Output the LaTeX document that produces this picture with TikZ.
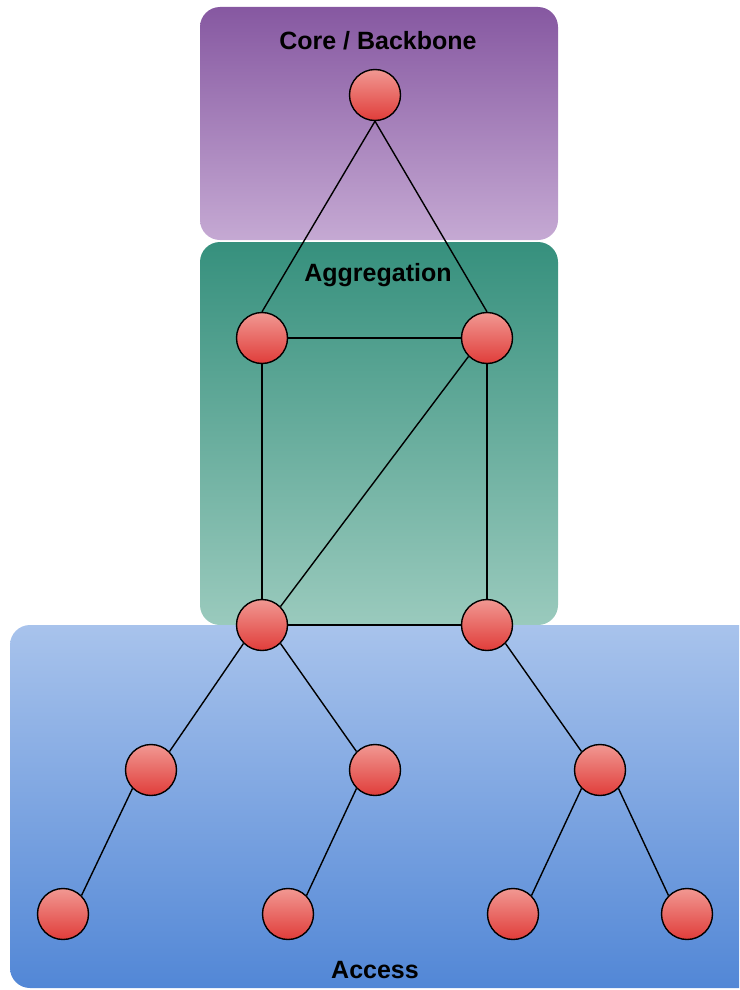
\documentclass[tikz,border=0pt]{standalone}
\usepackage{fontspec}
\setmainfont{Liberation Sans}
\definecolor{coreTop}{HTML}{8658A1}
\definecolor{coreBot}{HTML}{C5A9D3}
\definecolor{aggTop}{HTML}{36907D}
\definecolor{aggBot}{HTML}{9ACABD}
\definecolor{accTop}{HTML}{A8C3EC}
\definecolor{accBot}{HTML}{5287D6}
\definecolor{nodeTop}{HTML}{F19892}
\definecolor{nodeBot}{HTML}{E03D3A}
\begin{document}
\begin{tikzpicture}[x=1pt,y=-1pt,
  layer/.style={rounded corners=20pt},
  dev/.style={circle,minimum size=51pt,inner sep=0pt,draw=black,line width=1.4pt,top color=nodeTop,bottom color=nodeBot},
  link/.style={draw=black,line width=1.4pt},
  lbl/.style={font=\bfseries\fontsize{25}{29}\selectfont,text=black,inner sep=0pt}]
\useasboundingbox (0,0) rectangle (739,990);
\begin{scope}
\clip (0,0) rectangle (739,990);
\shade[layer,top color=coreTop,bottom color=coreBot] (200,7) rectangle (558,240);
\shade[layer,top color=aggTop,bottom color=aggBot] (200,242) rectangle (558,625);
\shade[layer,top color=accTop,bottom color=accBot] (10,625) rectangle (780,988);
\end{scope}
\node[lbl] (tcore) at (378,41) {Core / Backbone};
\node[lbl] (tagg) at (378,275) {Aggregation};
\node[lbl] (tacc) at (375,970) {Access};
\node[dev] (c) at (375,95) {};
\node[dev] (a1) at (262,338) {};
\node[dev] (a2) at (487,338) {};
\node[dev] (a3) at (262,625) {};
\node[dev] (a4) at (487,625) {};
\node[dev] (m1) at (151,770) {};
\node[dev] (m2) at (375,770) {};
\node[dev] (m3) at (600,770) {};
\node[dev] (l1) at (63,914) {};
\node[dev] (l2) at (288,914) {};
\node[dev] (l3) at (513,914) {};
\node[dev] (l4) at (687,914) {};
\draw[link] (c.south) -- (a1.north);
\draw[link] (c.south) -- (a2.north);
\draw[link] (a1.east) -- (a2.west);
\draw[link] (a1.south) -- (a3.north);
\draw[link] (a2.south) -- (a4.north);
\draw[link] (a2.225) -- (a3.45);
\draw[link] (a3.east) -- (a4.west);
\draw[link] (a3.225) -- (m1.45);
\draw[link] (a3.315) -- (m2.135);
\draw[link] (a4.315) -- (m3.135);
\draw[link] (m1.225) -- (l1.45);
\draw[link] (m2.225) -- (l2.45);
\draw[link] (m3.225) -- (l3.45);
\draw[link] (m3.315) -- (l4.135);
\end{tikzpicture}
\end{document}
